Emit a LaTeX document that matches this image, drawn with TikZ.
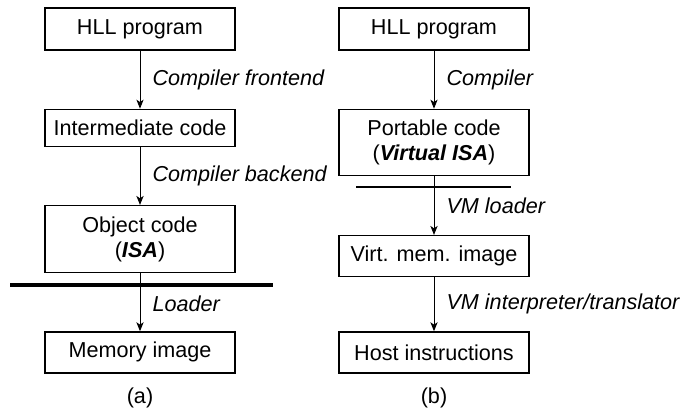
\documentclass[tikz,border=0pt]{standalone}
\usepackage{fontspec}
\setmainfont{Liberation Sans}
\usepackage{tikz}
\usetikzlibrary{arrows.meta,positioning,calc}

\begin{document}
\begin{tikzpicture}[
  x=0.5pt, y=0.5pt,
  node distance=29pt,
  stage/.style={rectangle, draw, line width=0.65pt, minimum width=95pt, minimum height=21pt, align=center, font=\fontsize{10.8}{12.5}\selectfont, inner sep=2pt},
  flow/.style={-{Stealth[length=4.5pt, width=3.6pt, inset=1.2pt]}, line width=0.5pt},
  lbl/.style={midway, right=2.7pt, font=\fontsize{10.8}{12.5}\selectfont\itshape},
  barrier/.style={line width=2pt},
  thinbarrier/.style={line width=0.75pt},
  caption/.style={font=\fontsize{10.8}{12.5}\selectfont},
]
  \useasboundingbox (0,0) rectangle (687,417);

  % (a) conventional
  \node[stage] (hlla) at (140,388) {HLL program};
  \node[stage, minimum height=18.5pt, below=of hlla] (inter) {Intermediate code};
  \node[stage, minimum height=33.5pt, below=of inter] (obj) {Object code\\(\textbf{\textit{ISA}})};
  \node[stage, minimum height=20.5pt, below=of obj] (mem) {Memory image};
  \node[caption, below=3.5pt of mem] (capa) {(a)};

  \draw[flow] (hlla) -- node[lbl] {Compiler frontend} (inter);
  \draw[flow] (inter) -- node[lbl] {Compiler backend} (obj);
  \draw[flow] (obj) -- node[lbl, yshift=-1pt] {Loader} (mem);
  \draw[barrier] ($(obj.south)+(-130,-12)$) coordinate (bla) -- ($(obj.south)+(133,-12)$) coordinate (bra);

  % (b) virtual machine
  \node[stage] (hllb) at (434,388) {HLL program};
  \node[stage, minimum height=33pt, below=of hllb] (port) {Portable code\\(\textbf{\textit{Virtual ISA}})};
  \node[stage, minimum height=20.5pt, below=29.5pt of port] (virt) {Virt. mem. image};
  \node[stage, minimum height=20.5pt, below=27pt of virt] (host) {Host instructions};
  \node[caption, below=3.5pt of host] (capb) {(b)};

  \draw[flow] (hllb) -- node[lbl] {Compiler} (port);
  \draw[flow] (port) -- node[lbl] {VM loader} (virt);
  \draw[flow] (virt) -- node[lbl] {VM interpreter/translator} (host);
  \draw[thinbarrier] ($(port.south)+(-78,-11)$) coordinate (blb) -- ($(port.south)+(77,-11)$) coordinate (brb);
\end{tikzpicture}
\end{document}
